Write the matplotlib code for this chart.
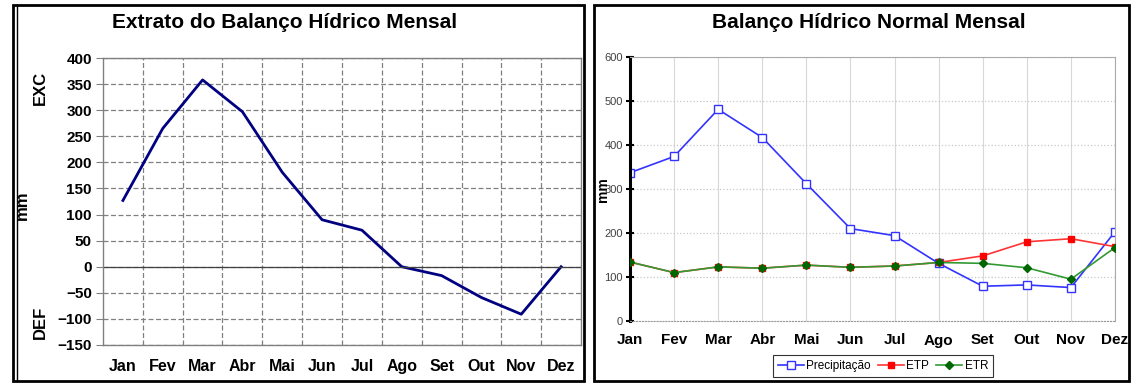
import matplotlib
matplotlib.use('Agg')
import matplotlib.pyplot as plt
from matplotlib.patches import Rectangle
from matplotlib.lines import Line2D

plt.rcParams['font.family'] = ['Liberation Sans', 'DejaVu Sans']

months = ['Jan', 'Fev', 'Mar', 'Abr', 'Mai', 'Jun', 'Jul', 'Ago', 'Set', 'Out', 'Nov', 'Dez']

# extrato (EXC / DEF), mm
extrato = [127, 265, 358, 297, 181, 90, 70, 0, -17, -59, -91, 0]

# balanco hidrico normal, mm
precipitacao = [337, 374, 481, 417, 312, 210, 194, 131, 79, 82, 76, 203]
etp = [134, 110, 123, 120, 127, 122, 125, 133, 148, 180, 187, 169]
etr = [134, 110, 123, 120, 127, 122, 125, 133, 131, 121, 95, 167]

W, H = 1131, 385
fig = plt.figure(figsize=(W / 100, H / 100), dpi=100)


def px_box(x0, y0, x1, y1):
    # pixel box (top-left origin) -> figure fraction
    return [x0 / W, 1 - y1 / H, (x1 - x0) / W, (y1 - y0) / H]


def frame(x0, y0, x1, y1, lw=2.0):
    b = px_box(x0, y0, x1, y1)
    fig.add_artist(Rectangle((b[0], b[1]), b[2], b[3], transform=fig.transFigure,
                             fill=False, edgecolor='black', linewidth=lw))


# panel frames
frame(13, 5, 584, 381)
fig.add_artist(Line2D([17 / W, 17 / W], [1 - 381 / H, 1 - 5 / H], transform=fig.transFigure,
                      color='black', linewidth=1.0))
frame(594, 5, 1129, 381)

# ---- left: extrato ----
ax1 = fig.add_axes(px_box(103, 58, 581, 345))
x = list(range(len(months)))
ax1.plot(x, extrato, color='#000080', linewidth=2.0)
ax1.set_xlim(-0.5, 11.5)
ax1.set_ylim(-150, 400)
ax1.set_yticks(range(-150, 401, 50))
ax1.set_xticks(x)
ax1.set_xticklabels(months, fontsize=11.5, fontweight='bold')
ax1.set_xticks([i + 0.5 for i in range(11)], minor=True)
ax1.tick_params(axis='x', which='both', length=0, pad=10)
ax1.tick_params(axis='y', length=5, color='#808080', labelsize=11, pad=3)
for lab in ax1.get_yticklabels():
    lab.set_fontweight('bold')
ax1.grid(True, which='minor', axis='x', color='#808080', linestyle=(0, (4, 2)), linewidth=0.9)
ax1.grid(True, which='major', axis='y', color='#808080', linestyle=(0, (4, 2)), linewidth=0.9)
ax1.axhline(0, color='#404040', linewidth=0.9)
for s in ax1.spines.values():
    s.set_color('#808080')
    s.set_linewidth(1.0)
ax1.set_axisbelow(True)

fig.text(285 / W, 1 - 22 / H, 'Extrato do Balanço Hídrico Mensal', ha='center', va='center',
         fontsize=15, fontweight='bold')
fig.text(40 / W, 1 - 88 / H, 'EXC', rotation=90, ha='center', va='center', fontsize=12, fontweight='bold')
fig.text(22 / W, 1 - 205 / H, 'mm', rotation=90, ha='center', va='center', fontsize=12, fontweight='bold')
fig.text(40 / W, 1 - 322 / H, 'DEF', rotation=90, ha='center', va='center', fontsize=12, fontweight='bold')

# ---- right: balanco normal ----
ax2 = fig.add_axes(px_box(630, 57, 1115, 321))
ax2.plot(x, precipitacao, color='#3333ff', linewidth=1.2, marker='s', markersize=6,
         markerfacecolor='white', markeredgecolor='#3333ff', markeredgewidth=1.0, label='Precipitação')
ax2.plot(x, etp, color='#ff3333', linewidth=1.2, marker='s', markersize=5,
         markerfacecolor='#ff0000', markeredgecolor='#ff0000', label='ETP', zorder=3)
ax2.plot(x, etr, color='#339933', linewidth=1.2, marker='D', markersize=4,
         markerfacecolor='#006600', markeredgecolor='#006600', label='ETR', zorder=4)
ax2.set_xlim(0, 11)
ax2.set_ylim(0, 600)
ax2.set_yticks(range(0, 601, 100))
ax2.set_xticks(x)
ax2.set_xticklabels(months, fontsize=11, fontweight='bold')
ax2.tick_params(axis='x', length=0, pad=9)
ax2.tick_params(axis='y', direction='inout', length=6, width=1.5, labelsize=8,
                labelcolor='#404040', pad=2)
ax2.grid(True, axis='x', color='#d8d8d8', linewidth=0.8)
ax2.grid(True, axis='y', color='#c8c8c8', linestyle=':', linewidth=0.9)
ax2.spines['left'].set_linewidth(2.2)
ax2.spines['left'].set_color('black')
ax2.spines['bottom'].set_color('#999999')
ax2.spines['bottom'].set_linestyle(':')
ax2.spines['top'].set_color('#aaaaaa')
ax2.spines['right'].set_color('#aaaaaa')
ax2.set_axisbelow(True)

fig.text(869 / W, 1 - 22 / H, 'Balanço Hídrico Normal Mensal', ha='center', va='center',
         fontsize=15, fontweight='bold')
fig.text(603 / W, 1 - 190 / H, 'mm', rotation=90, ha='center', va='center', fontsize=10, fontweight='bold')

leg = ax2.legend(loc='center', bbox_to_anchor=(883 / W, 1 - 366 / H), bbox_transform=fig.transFigure,
                 ncol=3, fontsize=8.5, frameon=True, fancybox=False, handlelength=2.2,
                 handletextpad=0.2, columnspacing=0.6, borderpad=0.4)
leg.get_frame().set_edgecolor('black')
leg.get_frame().set_linewidth(0.8)

fig.savefig('out.png', dpi=100)
